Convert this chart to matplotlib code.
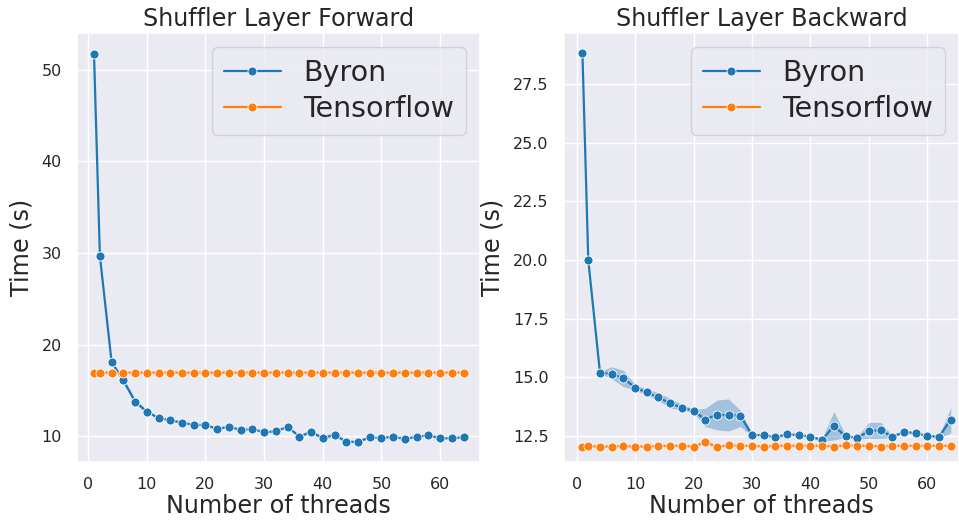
import numpy as np
import matplotlib
matplotlib.use('Agg')
import matplotlib.pyplot as plt
import seaborn as sns

sns.set_theme(style='darkgrid')
plt.rcParams['font.family'] = ['DejaVu Sans']

#%% Data
threads = [1, 2, 4, 6, 8, 10, 12, 14, 16, 18, 20, 22, 24, 26, 28, 30, 32,
           34, 36, 38, 40, 42, 44, 46, 48, 50, 52, 54, 56, 58, 60, 62, 64]

fwd_byron = [51.7, 29.7, 18.1, 16.1, 13.8, 12.7, 12.0, 11.75, 11.5, 11.25, 11.25,
             10.8, 11.05, 10.7, 10.8, 10.45, 10.55, 11.05, 9.97, 10.5, 9.8, 10.2,
             9.4, 9.4, 9.9, 9.8, 9.97, 9.7, 9.97, 10.1, 9.8, 9.8, 9.9]
fwd_byron_err = [0.0, 0.0, 0.1, 0.3, 0.3, 0.15, 0.1, 0.1, 0.1, 0.1, 0.1,
                 0.1, 0.1, 0.1, 0.1, 0.1, 0.1, 0.1, 0.1, 0.15, 0.2, 0.2,
                 0.1, 0.1, 0.1, 0.1, 0.1, 0.1, 0.1, 0.1, 0.1, 0.1, 0.1]
fwd_tf = [16.9, 16.95, 16.95, 16.95, 16.95, 16.95, 16.95, 16.95, 16.95, 16.95, 16.95,
          16.95, 16.95, 16.95, 16.95, 16.95, 16.95, 16.95, 16.95, 16.95, 16.95, 16.95,
          16.95, 16.95, 16.95, 16.95, 16.95, 16.95, 16.95, 16.95, 16.95, 16.95, 16.95]

bwd_byron = [28.84, 20.0, 15.2, 15.14, 14.97, 14.56, 14.36, 14.15, 13.89, 13.71, 13.57,
             13.2, 13.41, 13.38, 13.37, 12.54, 12.54, 12.45, 12.57, 12.54, 12.47, 12.33,
             12.93, 12.49, 12.42, 12.71, 12.74, 12.47, 12.67, 12.62, 12.5, 12.47, 13.2]
bwd_byron_lo = [28.84, 20.0, 15.15, 14.95, 14.6, 14.45, 14.25, 14.0, 13.7, 13.6, 13.5,
                12.9, 12.76, 12.71, 12.9, 12.5, 12.5, 12.4, 12.52, 12.5, 12.42, 12.25,
                12.33, 12.44, 12.37, 12.4, 12.4, 12.42, 12.62, 12.57, 12.45, 12.42, 12.62]
bwd_byron_hi = [28.84, 20.0, 15.25, 15.45, 15.3, 14.7, 14.5, 14.35, 14.1, 13.85, 13.65,
                13.68, 14.03, 14.08, 13.6, 12.6, 12.6, 12.5, 12.62, 12.6, 12.52, 12.4,
                13.54, 12.55, 12.48, 13.08, 13.08, 12.52, 12.72, 12.67, 12.55, 12.52, 13.72]
bwd_tf = [12.04, 12.08, 12.04, 12.05, 12.08, 12.04, 12.05, 12.08, 12.08, 12.08, 12.05,
          12.23, 12.04, 12.1, 12.08, 12.08, 12.05, 12.08, 12.08, 12.08, 12.08, 12.08,
          12.05, 12.1, 12.08, 12.08, 12.05, 12.08, 12.08, 12.08, 12.08, 12.08, 12.08]

blue = '#1f77b4'
orange = '#ff7f0e'

def draw(ax, mean, lo, hi, color, label):
    ax.fill_between(threads, lo, hi, color=color, alpha=0.35, lw=0)
    ax.plot(threads, mean, color=color, lw=1.6, marker='o', markersize=6.5,
            markeredgecolor='white', markeredgewidth=0.6, label=label)

fig = plt.figure(figsize=(9.59, 5.29), dpi=100)
ax1 = fig.add_axes([77/959, 67/529, 403/959, 429/529])
ax2 = fig.add_axes([564/959, 67/529, 395/959, 429/529])

fb = np.array(fwd_byron)
fe = np.array(fwd_byron_err)
draw(ax1, fwd_byron, fb - fe, fb + fe, blue, 'Byron')
ft = np.array(fwd_tf)
draw(ax1, fwd_tf, ft - 0.03, ft + 0.03, orange, 'Tensorflow')

draw(ax2, bwd_byron, bwd_byron_lo, bwd_byron_hi, blue, 'Byron')
bt = np.array(bwd_tf)
bt_hi = bt + 0.03
bt_hi[11] = 12.3
draw(ax2, bwd_tf, bt - 0.03, bt_hi, orange, 'Tensorflow')

ax1.set_xlim(-1.9, 66.8)
ax1.set_ylim(7.2, 54.0)
ax1.set_yticks([10, 20, 30, 40, 50])
ax2.set_xlim(-2.15, 65.4)
ax2.set_ylim(11.39, 29.68)
ax2.set_yticks([12.5, 15.0, 17.5, 20.0, 22.5, 25.0, 27.5])
ax1.set_xticks([0, 10, 20, 30, 40, 50, 60])
ax2.set_xticks([0, 10, 20, 30, 40, 50, 60])

titles = ['Shuffler Layer Forward', 'Shuffler Layer Backward']
for ax, t in zip([ax1, ax2], titles):
    ax.set_title(t, fontsize=17.2, color='#262626', pad=5)
    ax.set_xlabel('Number of threads', fontsize=17.2, color='#262626', labelpad=1)
    ax.set_ylabel('Time (s)', fontsize=17.2, color='#262626', labelpad=6)
    ax.tick_params(labelsize=11.5, colors='#262626', pad=5)
    ax.legend(loc='upper right', fontsize=20.5, handlelength=2.0,
              borderaxespad=0.5, labelspacing=0.3)

fig.savefig('out.png', dpi=100)
